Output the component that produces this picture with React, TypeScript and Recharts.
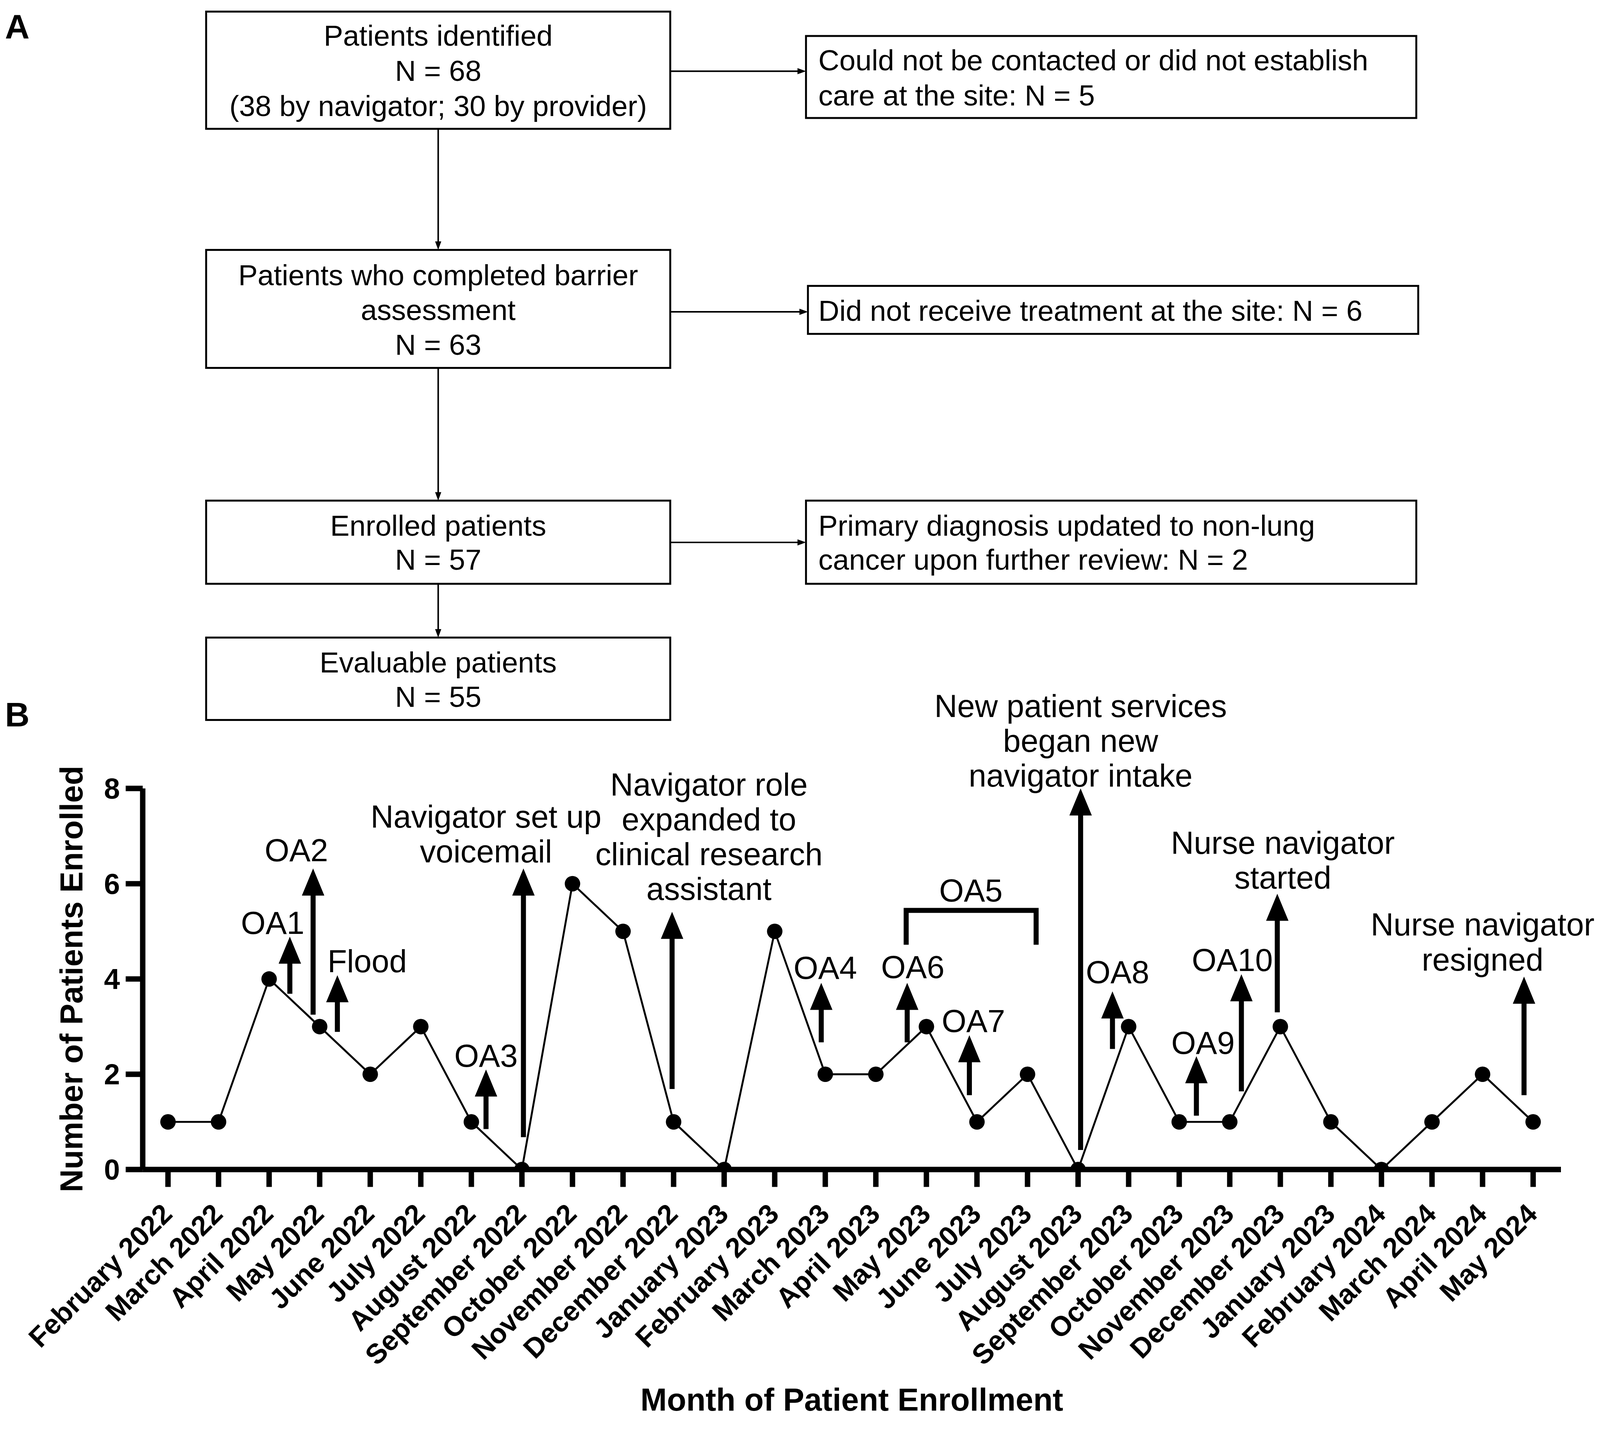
import React from 'react';
import { ComposedChart, Line, XAxis, YAxis, ReferenceLine, ReferenceDot, Label } from 'recharts';

// ---------- data ----------
const months = [
  'February 2022', 'March 2022', 'April 2022', 'May 2022', 'June 2022', 'July 2022',
  'August 2022', 'September 2022', 'October 2022', 'November 2022', 'December 2022',
  'January 2023', 'February 2023', 'March 2023', 'April 2023', 'May 2023', 'June 2023',
  'July 2023', 'August 2023', 'September 2023', 'October 2023', 'November 2023',
  'December 2023', 'January 2023', 'February 2024', 'March 2024', 'April 2024', 'May 2024',
];
const enrolled = [1, 1, 4, 3, 2, 3, 1, 0, 6, 5, 1, 0, 5, 2, 2, 3, 1, 2, 0, 3, 1, 1, 3, 1, 0, 1, 2, 1];
const yTicks = [0, 2, 4, 6, 8];

// event arrows: month position, tail value, tip value
const arrowX = [2.41, 2.87, 3.35, 6.29, 7.03, 9.97, 12.92, 14.62, 15.85, 18.05, 18.68, 20.34, 21.23, 21.94, 26.82];
const arrowFrom = [3.69, 3.25, 2.89, 0.85, 0.68, 1.69, 2.67, 2.67, 1.56, 0.41, 2.53, 1.13, 1.64, 3.3, 1.56];
const arrowTo = [4.89, 6.32, 4.08, 2.1, 6.32, 5.41, 3.92, 3.92, 2.82, 8.0, 3.74, 2.38, 4.1, 5.79, 4.05];

// event labels: text lines, month position, value of first line
const labelLines = [
  ['OA1'], ['OA2'], ['Flood'], ['OA3'],
  ['Navigator set up', 'voicemail'],
  ['Navigator role', 'expanded to', 'clinical research', 'assistant'],
  ['OA4'], ['OA6'], ['OA5'], ['OA7'],
  ['New patient services', 'began new', 'navigator intake'],
  ['OA8'], ['OA9'], ['OA10'],
  ['Nurse navigator', 'started'],
  ['Nurse navigator', 'resigned'],
];
const labelX = [2.07, 2.54, 3.94, 6.29, 6.29, 10.7, 13.0, 14.73, 15.88, 15.93, 18.05, 18.78, 20.47, 21.05, 22.05, 26.0];
const labelY = [5.19, 6.71, 4.38, 2.4, 7.42, 8.09, 4.24, 4.26, 5.87, 3.13, 9.74, 4.15, 2.67, 4.41, 6.87, 5.15];

// OA5 bracket
const bracketX = [14.6, 14.6, 17.17, 17.17];
const bracketY = [4.72, 5.44, 5.44, 4.72];

// flowchart texts
const flowMain = [
  ['Patients identified', 'N = 68', '(38 by navigator; 30 by provider)'],
  ['Patients who completed barrier', 'assessment', 'N = 63'],
  ['Enrolled patients', 'N = 57'],
  ['Evaluable patients', 'N = 55'],
];
const flowSide = [
  ['Could not be contacted or did not establish', 'care at the site: N = 5'],
  ['Did not receive treatment at the site: N = 6'],
  ['Primary diagnosis updated to non-lung', 'cancer upon further review: N = 2'],
];

// ---------- layout ----------
const W = 4137;
const H = 3675;
const FONT = '"Liberation Sans", Arial, Helvetica, sans-serif';

const data = months.map((m, i) => ({ i, v: enrolled[i] }));
const bracketData = bracketX.map((x, k) => ({ i: x, y: bracketY[k] }));

const MonthTick = (props: any) => {
  const { x, y, payload } = props;
  const ax = x + 15;
  const ay = y + 72;
  return (
    <text
      x={ax}
      y={ay}
      transform={`rotate(-45 ${ax} ${ay})`}
      textAnchor="end"
      fontSize={72}
      fontWeight={700}
      fill="#000"
      fontFamily={FONT}
    >
      {months[payload.value]}
    </text>
  );
};

const ArrowShape = (props: any) => {
  const { x1, y1, x2, y2 } = props;
  const dx = x2 - x1;
  const dy = y2 - y1;
  const len = Math.hypot(dx, dy) || 1;
  const ux = dx / len;
  const uy = dy / len;
  const headLen = 70;
  const half = 29;
  const bx = x2 - ux * headLen;
  const by = y2 - uy * headLen;
  const px = -uy;
  const py = ux;
  return (
    <g>
      <line x1={x1} y1={y1} x2={bx + ux * 4} y2={by + uy * 4} stroke="#000" strokeWidth={13} />
      <polygon
        points={`${x2},${y2} ${bx + px * half},${by + py * half} ${bx - px * half},${by - py * half}`}
        fill="#000"
      />
    </g>
  );
};

const makeLabel = (lines: string[]) => (p: any) => (
  <text
    x={p.cx}
    y={p.cy + 0.36 * 82}
    textAnchor="middle"
    fontSize={82}
    fill="#000"
    fontFamily={FONT}
  >
    {lines.map((l, j) => (
      <tspan key={j} x={p.cx} dy={j === 0 ? 0 : 90}>
        {l}
      </tspan>
    ))}
  </text>
);

const Flowchart = () => {
  const FS = 75;
  const base = 0.36 * FS;
  const mainBoxes = [
    { x: 533, y: 30, w: 1200, h: 303, ys: [91, 182, 273] },
    { x: 533, y: 646, w: 1200, h: 305, ys: [710, 800, 890] },
    { x: 533, y: 1294, w: 1200, h: 215, ys: [1358, 1446] },
    { x: 533, y: 1648, w: 1200, h: 213, ys: [1711, 1800] },
  ];
  const sideBoxes = [
    { x: 2084, y: 93, w: 1578, h: 212, ys: [155, 246], ay: 184 },
    { x: 2089, y: 739, w: 1578, h: 124, ys: [802], ay: 806 },
    { x: 2084, y: 1294, w: 1578, h: 215, ys: [1358, 1446], ay: 1402 },
  ];
  const cx = 1133;
  const hArrow = (x1: number, x2: number, y: number, key: string) => (
    <g key={key}>
      <line x1={x1} y1={y} x2={x2 - 18} y2={y} stroke="#000" strokeWidth={4} />
      <polygon points={`${x2},${y} ${x2 - 22},${y - 8} ${x2 - 22},${y + 8}`} fill="#000" />
    </g>
  );
  const vArrow = (y1: number, y2: number, key: string) => (
    <g key={key}>
      <line x1={cx} y1={y1} x2={cx} y2={y2 - 18} stroke="#000" strokeWidth={4} />
      <polygon points={`${cx},${y2} ${cx - 8},${y2 - 22} ${cx + 8},${y2 - 22}`} fill="#000" />
    </g>
  );
  return (
    <svg width={W} height={H} style={{ position: 'absolute', left: 0, top: 0 }} fontFamily={FONT}>
      <text x={13} y={99} fontSize={88} fontWeight={700} fill="#000">A</text>
      <text x={13} y={1878} fontSize={88} fontWeight={700} fill="#000">B</text>
      {mainBoxes.map((b, k) => (
        <g key={`m${k}`}>
          <rect x={b.x} y={b.y} width={b.w} height={b.h} fill="#fff" stroke="#000" strokeWidth={5} />
          {flowMain[k].map((t, j) => (
            <text key={j} x={cx} y={b.ys[j] + base} textAnchor="middle" fontSize={FS} fill="#000">
              {t}
            </text>
          ))}
        </g>
      ))}
      {sideBoxes.map((b, k) => (
        <g key={`s${k}`}>
          <rect x={b.x} y={b.y} width={b.w} height={b.h} fill="#fff" stroke="#000" strokeWidth={5} />
          {flowSide[k].map((t, j) => (
            <text key={j} x={2116} y={b.ys[j] + base} textAnchor="start" fontSize={FS} fill="#000">
              {t}
            </text>
          ))}
          {hArrow(1733, b.x, b.ay, `ha${k}`)}
        </g>
      ))}
      {vArrow(333, 646, 'v1')}
      {vArrow(951, 1294, 'v2')}
      {vArrow(1509, 1648, 'v3')}
    </svg>
  );
};

export default function App() {
  const [fit, setFit] = React.useState(1);
  React.useLayoutEffect(() => {
    const update = () => {
      const cw = document.documentElement.clientWidth || window.innerWidth || W;
      const ch = document.documentElement.clientHeight || window.innerHeight || H;
      const s = Math.min(1, cw / W, ch / H);
      setFit((f) => (Math.abs(f - s) > 1e-4 ? s : f));
    };
    update();
    window.addEventListener('resize', update);
    return () => window.removeEventListener('resize', update);
  }, []);

  return (
    <>
      <style>{'html,body{margin:0;padding:0;overflow:hidden;background:#fff;}'}</style>
      <div
        style={{
          position: 'absolute',
          left: 0,
          top: 0,
          width: W,
          height: H,
          background: '#fff',
          overflow: 'hidden',
          fontFamily: FONT,
          transform: `scale(${fit})`,
          transformOrigin: '0 0',
        }}
      >
        <Flowchart />
        <div style={{ position: 'absolute', left: 0, top: 0 }}>
          <ComposedChart
            width={W}
            height={H}
            data={data}
            margin={{ top: 2038, right: 101, bottom: 10, left: 69 }}
          >
            <XAxis
              dataKey="i"
              type="number"
              domain={[-0.5, 27.55]}
              allowDataOverflow
              ticks={months.map((_, i) => i)}
              interval={0}
              height={642}
              tickSize={45}
              tickMargin={2}
              axisLine={{ stroke: '#000', strokeWidth: 14 }}
              tickLine={{ stroke: '#000', strokeWidth: 14 }}
              tick={<MonthTick />}
            >
              <Label
                content={(p: any) => {
                  const vb = p.viewBox || { x: 369, width: 3667 };
                  return (
                    <text
                      x={vb.x + vb.width / 2}
                      y={3646}
                      textAnchor="middle"
                      fontSize={82}
                      fontWeight={700}
                      fill="#000"
                      fontFamily={FONT}
                    >
                      Month of Patient Enrollment
                    </text>
                  );
                }}
              />
            </XAxis>
            <YAxis
              type="number"
              domain={[0, 8]}
              allowDataOverflow
              ticks={yTicks}
              width={300}
              tickSize={44}
              tickMargin={15}
              axisLine={{ stroke: '#000', strokeWidth: 14 }}
              tickLine={{ stroke: '#000', strokeWidth: 14 }}
              tick={{ fontSize: 74, fontWeight: 700, fill: '#000', fontFamily: FONT }}
            >
              <Label
                content={(p: any) => {
                  const vb = p.viewBox || { y: 2038, height: 985 };
                  const cy = vb.y + vb.height / 2;
                  const x = 185;
                  return (
                    <text
                      x={x}
                      y={cy}
                      transform={`rotate(-90 ${x} ${cy})`}
                      textAnchor="middle"
                      dominantBaseline="central"
                      fontSize={82}
                      fontWeight={700}
                      fill="#000"
                      fontFamily={FONT}
                    >
                      Number of Patients Enrolled
                    </text>
                  );
                }}
              />
            </YAxis>
            {arrowX.map((x, k) => (
              <ReferenceLine
                key={`a${k}`}
                segment={[
                  { x, y: arrowFrom[k] },
                  { x, y: arrowTo[k] },
                ]}
                ifOverflow="visible"
                shape={ArrowShape}
              />
            ))}
            {labelLines.map((lines, k) => (
              <ReferenceDot
                key={`l${k}`}
                x={labelX[k]}
                y={labelY[k]}
                r={0}
                ifOverflow="visible"
                shape={makeLabel(lines)}
              />
            ))}
            <Line
              data={bracketData}
              dataKey="y"
              type="linear"
              stroke="#000"
              strokeWidth={13}
              strokeLinejoin="miter"
              dot={false}
              activeDot={false}
              isAnimationActive={false}
            />
            <Line
              dataKey="v"
              type="linear"
              stroke="#000"
              strokeWidth={5}
              dot={{ r: 20, fill: '#000', stroke: '#000', strokeWidth: 0 }}
              activeDot={false}
              isAnimationActive={false}
            />
          </ComposedChart>
        </div>
      </div>
    </>
  );
}
